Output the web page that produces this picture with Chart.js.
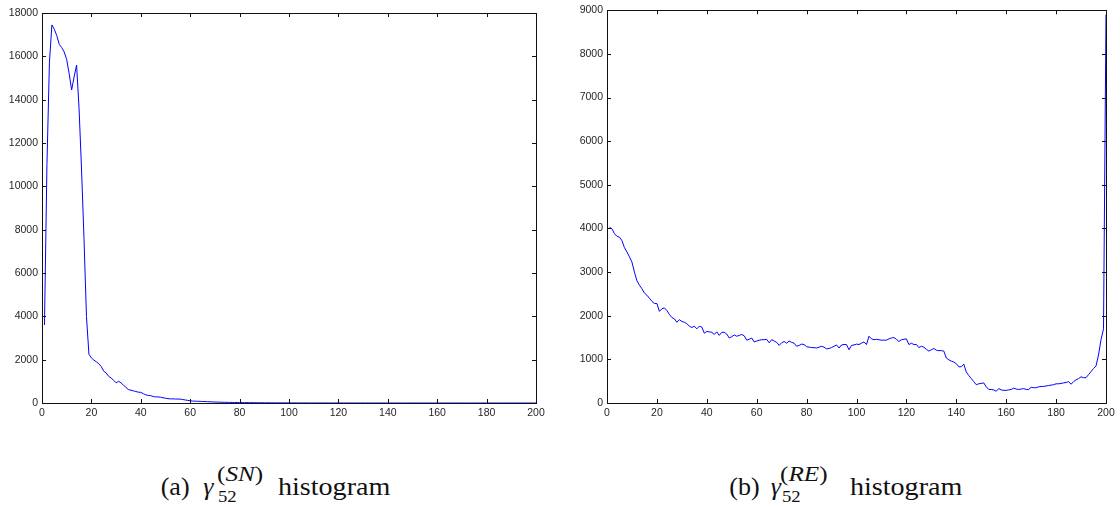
<!DOCTYPE html>
<html lang="en">
<head>
<meta charset="UTF-8" />
<title>Histograms</title>
<script src="https://cdn.jsdelivr.net/npm/chart.js"></script>
<style>
  * { margin: 0; padding: 0; box-sizing: border-box; }
  body { width: 1120px; height: 507px; background: #fff; overflow: hidden; position: relative; }
  canvas { position: absolute; top: 0; }
  #histSN { left: 0; }
  #histRE { left: 560px; }
  .cap {
    position: absolute;
    font-family: 'Liberation Serif', 'DejaVu Serif', serif;
    color: #111;
    line-height: 1;
    white-space: nowrap;
    transform-origin: 0 0;
  }
  .big { font-size: 26px; top: 474.2px; }
  .word { transform: scaleX(1.08); }
  .sub { font-size: 17px; top: 487.5px; transform: scaleX(1.1); }
  .sup { font-size: 21px; top: 463.5px; transform: scaleX(1.2); }
  i { font-style: italic; }
</style>
</head>
<body>
<canvas id="histSN" width="560" height="430"></canvas>
<canvas id="histRE" width="560" height="430"></canvas>

<!-- captions under each panel -->
<span class="cap big" style="left:160.7px">(a)</span>
<span class="cap big" style="left:203.3px"><i>γ</i></span>
<span class="cap sub" style="left:218.3px">52</span>
<span class="cap sup" style="left:217px">(<i>SN</i>)</span>
<span class="cap big word" style="left:278.3px">histogram</span>

<span class="cap big" style="left:729.3px">(b)</span>
<span class="cap big" style="left:770.7px"><i>γ</i></span>
<span class="cap sub" style="left:781.7px">52</span>
<span class="cap sup" style="left:780px">(<i>RE</i>)</span>
<span class="cap big word" style="left:850px">histogram</span>

<script>
// bin counts, bins 1..200
const countsSN = [
  3600, 11000, 15700, 17450, 17250, 16950, 16550, 16400, 16200, 15850,
  15200, 14450, 15050, 15600, 13600, 10800, 7600, 4000, 2250, 2080,
  1980, 1900, 1810, 1680, 1470, 1380, 1230, 1150, 1050, 930,
  1000, 930, 820, 720, 620, 590, 560, 530, 500, 490,
  430, 380, 350, 340, 300, 280, 280, 270, 240, 220,
  200, 190, 190, 185, 180, 180, 160, 140, 120, 100,
  90, 85, 80, 75, 70, 65, 60, 55, 50, 45,
  42, 38, 35, 32, 30, 28, 26, 24, 22, 20,
  18, 17, 16, 15, 14, 13, 12, 11, 10, 9,
  9, 8, 8, 7, 7, 6, 6, 5, 5, 5,
  4, 4, 4, 3, 3, 3, 3, 2, 2, 2,
  2, 2, 2, 2, 1, 1, 1, 1, 1, 1,
  1, 1, 1, 1, 1, 0, 1, 0, 0, 1,
  0, 0, 1, 0, 0, 0, 0, 1, 0, 0,
  0, 0, 0, 0, 0, 0, 0, 0, 0, 0,
  0, 0, 0, 0, 0, 0, 0, 0, 0, 0,
  0, 0, 0, 0, 0, 0, 0, 0, 0, 0,
  0, 0, 0, 0, 0, 0, 0, 0, 0, 0,
  0, 0, 0, 0, 0, 0, 0, 0, 0, 0,
  0, 0, 0, 0, 0, 0, 0, 0, 0, 0
];

const countsRE = [
  4030, 3990, 3880, 3820, 3800, 3720, 3560, 3460, 3350, 3230,
  3000, 2800, 2700, 2620, 2520, 2470, 2400, 2330, 2280, 2280,
  2100, 2160, 2180, 2120, 2030, 1960, 1930, 1850, 1910, 1870,
  1850, 1820, 1760, 1730, 1760, 1700, 1760, 1740, 1600, 1640,
  1630, 1620, 1570, 1630, 1550, 1620, 1620, 1580, 1490, 1520,
  1560, 1530, 1550, 1570, 1540, 1440, 1460, 1490, 1400, 1420,
  1440, 1450, 1450, 1460, 1380, 1450, 1420, 1390, 1320, 1380,
  1410, 1370, 1420, 1390, 1370, 1300, 1320, 1350, 1340, 1290,
  1280, 1270, 1270, 1260, 1280, 1300, 1280, 1240, 1250, 1270,
  1300, 1330, 1260, 1330, 1340, 1340, 1220, 1320, 1330, 1350,
  1340, 1370, 1400, 1340, 1530, 1470, 1450, 1460, 1450, 1440,
  1440, 1440, 1470, 1490, 1500, 1460, 1410, 1450, 1460, 1470,
  1340, 1370, 1340, 1340, 1270, 1300, 1280, 1230, 1190, 1220,
  1250, 1210, 1200, 1200, 1190, 1030, 990, 960, 940, 900,
  830, 830, 890, 710, 630, 560, 490, 420, 440, 450,
  460, 370, 310, 310, 300, 270, 330, 300, 290, 290,
  300, 310, 340, 320, 310, 320, 330, 310, 310, 360,
  350, 350, 370, 380, 380, 390, 400, 410, 420, 440,
  440, 450, 460, 470, 490, 430, 490, 530, 560, 600,
  580, 580, 650, 720, 790, 850, 1100, 1450, 1700, 8900
];

const xMax = 200, xStep = 20;
const yMaxSN = 18000, yStepSN = 2000;
const yMaxRE = 9000, yStepRE = 1000;

const tickFont = { family: "'Liberation Sans', Arial, sans-serif", size: 10.5 };
const tickColor = '#262626';

// closed box with short inward tick marks on all four sides
const boxFrame = {
  id: 'boxFrame',
  afterDraw(chart) {
    const { ctx, chartArea: a, scales } = chart;
    const len = 4;
    ctx.save();
    ctx.strokeStyle = '#111';
    ctx.lineWidth = 1;
    ctx.strokeRect(Math.round(a.left) + 0.5, Math.round(a.top) + 0.5,
                   Math.round(a.right - a.left), Math.round(a.bottom - a.top));
    ctx.beginPath();
    scales.x.ticks.forEach(t => {
      const px = Math.round(scales.x.getPixelForValue(t.value)) + 0.5;
      ctx.moveTo(px, a.bottom); ctx.lineTo(px, a.bottom - len);
      ctx.moveTo(px, a.top); ctx.lineTo(px, a.top + len);
    });
    scales.y.ticks.forEach(t => {
      const py = Math.round(scales.y.getPixelForValue(t.value)) + 0.5;
      ctx.moveTo(a.left, py); ctx.lineTo(a.left + len, py);
      ctx.moveTo(a.right, py); ctx.lineTo(a.right - len, py);
    });
    ctx.stroke();
    ctx.restore();
  }
};

function makeHist(id, counts, yMax, yStep, pad, yWidth) {
  return new Chart(document.getElementById(id), {
    type: 'line',
    data: {
      datasets: [{
        data: counts.map((c, i) => ({ x: i + 1, y: c })),
        borderColor: '#0000ff',
        borderWidth: 1,
        pointRadius: 0,
        tension: 0,
        fill: false
      }]
    },
    options: {
      responsive: false,
      animation: false,
      devicePixelRatio: 1,
      layout: { padding: pad },
      plugins: { legend: { display: false }, tooltip: { enabled: false } },
      scales: {
        x: {
          type: 'linear', min: 0, max: xMax,
          ticks: { stepSize: xStep, padding: 4, font: tickFont, color: tickColor, maxRotation: 0,
                   callback: v => String(v) },
          grid: { display: false, drawTicks: false },
          border: { display: false },
          afterFit(s) { s.height = 27; }
        },
        y: {
          min: 0, max: yMax,
          ticks: { stepSize: yStep, padding: 4, font: tickFont, color: tickColor,
                   callback: v => String(v) },
          grid: { display: false, drawTicks: false },
          border: { display: false },
          afterFit(s) { s.width = yWidth; }
        }
      }
    },
    plugins: [boxFrame]
  });
}

makeHist('histSN', countsSN, yMaxSN, yStepSN, { top: 13, right: 24, left: 0, bottom: 0 }, 42);
makeHist('histRE', countsRE, yMaxRE, yStepRE, { top: 9.5, right: 14, left: 0, bottom: 0 }, 47);
</script>
</body>
</html>
